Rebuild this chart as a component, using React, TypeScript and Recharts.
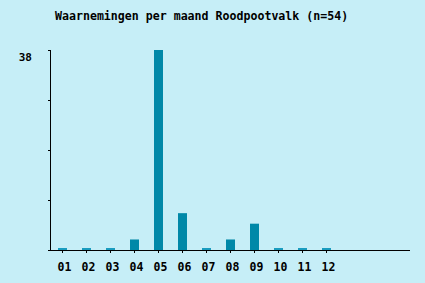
import React from "react";
import { BarChart, Bar, XAxis, YAxis, Cell } from "recharts";

const title = "Waarnemingen per maand Roodpootvalk (n=54)";
const months = ["01", "02", "03", "04", "05", "06", "07", "08", "09", "10", "11", "12"];
const counts = [0, 0, 0, 2, 38, 7, 0, 2, 5, 0, 0, 0];
const padSlots = ["p1", "p2", "p3"];
const yTicks = [0, 9.5, 19, 28.5, 38];
const yLabelled = [38];

const BG = "#c6eef7";
const BAR = "#0088a8";
const STUB = "#1a9cbf";
const FONT = "'DejaVu Sans Mono', monospace";

const data = [
  ...months.map((m, i) => ({ key: m, label: m, value: counts[i] })),
  ...padSlots.map((p) => ({ key: p, label: "", value: null as number | null })),
];

const XTick = (props: any) => {
  const { x, y, index } = props;
  const row = data[index];
  if (!row || !row.label) return null;
  return (
    <g>
      <line x1={x} x2={x} y1={y - 8} y2={y - 5} stroke="#000" strokeWidth={1} shapeRendering="crispEdges" />
      <text x={x + 2.5} y={y + 13} textAnchor="middle" fontFamily={FONT} fontWeight="bold" fontSize={11.5} fill="#000">
        {row.label}
      </text>
    </g>
  );
};

export default function App() {
  return (
    <div style={{ position: "absolute", left: 0, top: 0, width: 425, height: 283, background: BG }}>
      <BarChart
        width={425}
        height={283}
        data={data}
        margin={{ top: 50, right: 15, bottom: 0, left: 0 }}
        barSize={9}
      >
        <text x={55} y={20} fontFamily={FONT} fontWeight="bold" fontSize={11.6} fill="#000">
          {title}
        </text>
        <XAxis
          dataKey="key"
          height={33}
          axisLine={{ stroke: "#000", strokeWidth: 1, shapeRendering: "crispEdges" }}
          tickLine={false}
          tick={<XTick />}
          interval={0}
        />
        <YAxis
          width={50}
          domain={[0, 38]}
          ticks={yTicks}
          interval={0}
          axisLine={{ stroke: "#000", strokeWidth: 1, shapeRendering: "crispEdges" }}
          tickLine={{ stroke: "#000", shapeRendering: "crispEdges" }}
          tickSize={2}
          tick={{ fontFamily: FONT, fontWeight: "bold", fontSize: 11, fill: "#000", dy: 7, dx: -14 }}
          tickFormatter={(v: number) => (yLabelled.includes(v) ? String(v) : "")}
        />
        <Bar dataKey="value" isAnimationActive={false} minPointSize={(v: number) => (v === 0 ? 2 : 0)}>
          {data.map((d) => (
            <Cell key={d.key} fill={d.value === 0 ? STUB : BAR} />
          ))}
        </Bar>
      </BarChart>
    </div>
  );
}
